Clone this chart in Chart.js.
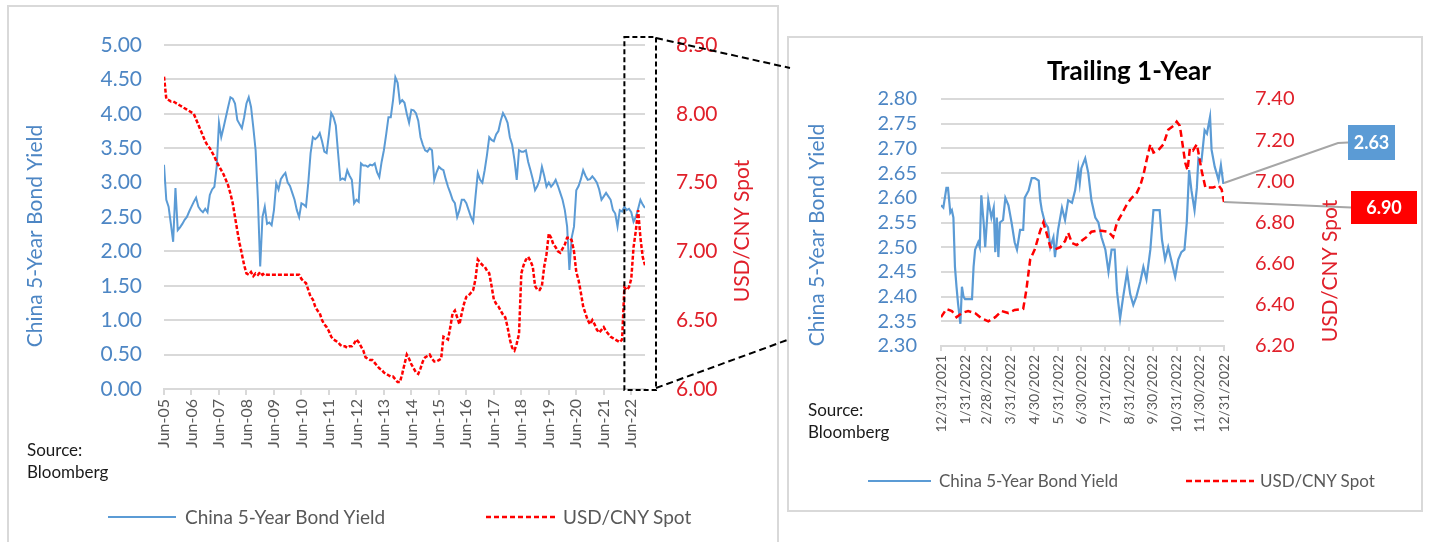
<!DOCTYPE html>
<html>
<head>
<meta charset="utf-8">
<script src="https://cdn.jsdelivr.net/npm/chart.js@4.4.1/dist/chart.umd.min.js"></script>
<style>
  html, body { margin: 0; padding: 0; background: #ffffff; }
  body { width: 1429px; height: 542px; position: relative; overflow: hidden; font-family: Lato, "Open Sans", sans-serif; }
  .panel { position: absolute; border: 2px solid #d9d9d9; box-sizing: border-box; background: #fff; }
  canvas { position: absolute; }
  .txt { position: absolute; white-space: nowrap; }
  .src { color: #1a1a1a; font-size: 17px; line-height: 22px; }
  .legtxt { color: #595959; }
  .title { font-weight: bold; font-size: 26px; color: #000; text-align: center; line-height: 30px; }
  svg.leg { position: absolute; overflow: visible; }
</style>
</head>
<body>
<div class="panel" style="left:7px; top:5px; width:772px; height:600px;"></div>
<div class="panel" style="left:787px; top:36px; width:636px; height:476px;"></div>

<canvas id="longChart" width="780" height="542" style="left:0; top:0;"></canvas>
<canvas id="trailChart" width="636" height="476" style="left:787px; top:36px;"></canvas>
<canvas id="overlay" width="1429" height="542" style="left:0; top:0; pointer-events:none;"></canvas>

<div class="txt title" style="left:979px; top:55px; width:300px;">Trailing 1-Year</div>

<div class="txt src" style="left:27px; top:439px;">Source:<br>Bloomberg</div>
<div class="txt src" style="left:808px; top:399px;">Source:<br>Bloomberg</div>

<!-- legend, long-run panel -->
<svg class="leg" style="left:108px; top:512px;" width="68" height="10"><line x1="0" y1="5" x2="68" y2="5" stroke="#5b9bd5" stroke-width="2.2"/></svg>
<div class="txt legtxt" style="left:185px; top:505px; font-size:19px; line-height:24px;">China 5-Year Bond Yield</div>
<svg class="leg" style="left:486px; top:512px;" width="69" height="10"><line x1="0" y1="5" x2="69" y2="5" stroke="#ff0000" stroke-width="2.5" stroke-dasharray="5,3"/></svg>
<div class="txt legtxt" style="left:563px; top:505px; font-size:19px; line-height:24px;">USD/CNY Spot</div>

<!-- legend, trailing panel -->
<svg class="leg" style="left:868px; top:476px;" width="63" height="10"><line x1="0" y1="5" x2="63" y2="5" stroke="#5b9bd5" stroke-width="2.2"/></svg>
<div class="txt legtxt" style="left:939px; top:470px; font-size:17px; line-height:22px;">China 5-Year Bond Yield</div>
<svg class="leg" style="left:1186px; top:476px;" width="68" height="10"><line x1="0" y1="5" x2="68" y2="5" stroke="#ff0000" stroke-width="2.5" stroke-dasharray="6,3"/></svg>
<div class="txt legtxt" style="left:1260px; top:470px; font-size:17px; line-height:22px;">USD/CNY Spot</div>

<script>
// Monthly series, June 2005 (index 0) through December 2022 (index 210)
const bondYieldMonthly = [
  3.26, 2.75, 2.65, 2.40, 2.14, 2.92, 2.31,
  2.35, 2.40, 2.46, 2.50, 2.58, 2.65, 2.72, 2.78, 2.65, 2.60, 2.57, 2.62,
  2.57, 2.82, 2.90, 2.94, 3.23, 3.87, 3.66, 3.80, 3.95, 4.10, 4.24, 4.22,
  4.15, 3.91, 3.85, 3.79, 3.95, 4.15, 4.24, 4.10, 3.80, 3.47, 2.75, 1.78,
  2.50, 2.65, 2.40, 2.42, 2.38, 2.60, 2.99, 2.90, 3.05, 3.10, 3.14, 3.00,
  2.95, 2.85, 2.75, 2.60, 2.50, 2.70, 2.68, 2.65, 3.00, 3.43, 3.66, 3.63,
  3.66, 3.72, 3.60, 3.45, 3.43, 3.70, 4.01, 3.95, 3.83, 3.43, 3.04, 3.06,
  3.04, 3.18, 3.10, 3.04, 2.70, 2.75, 2.72, 3.28, 3.25, 3.25, 3.23, 3.26,
  3.25, 3.28, 3.15, 3.08, 3.30, 3.47, 3.70, 3.95, 3.95, 4.20, 4.53, 4.45,
  4.16, 4.20, 4.16, 4.00, 3.87, 4.06, 4.05, 4.01, 3.90, 3.66, 3.55, 3.47,
  3.45, 3.50, 3.47, 3.04, 3.15, 3.23, 3.20, 3.18, 3.05, 2.94, 2.85, 2.75,
  2.70, 2.50, 2.60, 2.75, 2.75, 2.70, 2.60, 2.50, 2.43, 2.80, 3.14, 3.04,
  3.00, 3.18, 3.40, 3.66, 3.62, 3.60, 3.70, 3.75, 3.90, 4.01, 3.95, 3.87,
  3.66, 3.55, 3.33, 3.04, 3.47, 3.45, 3.45, 3.47, 3.30, 3.18, 3.05, 2.89,
  2.95, 3.04, 3.23, 3.10, 2.94, 3.00, 2.94, 2.98, 3.04, 2.95, 2.85, 2.75,
  2.60, 2.36, 1.73, 2.20, 2.36, 2.89, 2.95, 3.05, 3.18, 3.10, 3.04, 3.05,
  3.09, 3.05, 3.00, 2.90, 2.75, 2.80, 2.85, 2.80, 2.75, 2.60, 2.55, 2.36,
  2.60, 2.58, 2.65, 2.60, 2.62, 2.57, 2.43, 2.50, 2.62, 2.75, 2.68, 2.63
];
const usdCnyMonthly = [
  8.27, 8.11, 8.10, 8.09, 8.09, 8.08, 8.07,
  8.06, 8.05, 8.04, 8.03, 8.02, 8.01, 8.00, 7.96, 7.92, 7.88, 7.84, 7.80,
  7.77, 7.75, 7.72, 7.69, 7.65, 7.62, 7.59, 7.56, 7.52, 7.48, 7.42, 7.35,
  7.25, 7.15, 7.06, 6.98, 6.90, 6.84, 6.83, 6.85, 6.82, 6.84, 6.83, 6.85,
  6.83, 6.84, 6.83, 6.83, 6.83, 6.83, 6.83, 6.83, 6.83, 6.83, 6.83, 6.83,
  6.83, 6.83, 6.83, 6.83, 6.83, 6.80, 6.78, 6.77, 6.72, 6.67, 6.65, 6.60,
  6.57, 6.55, 6.50, 6.47, 6.45, 6.42, 6.38, 6.36, 6.35, 6.34, 6.32, 6.31,
  6.31, 6.30, 6.31, 6.31, 6.33, 6.36, 6.34, 6.31, 6.28, 6.23, 6.22, 6.21,
  6.21, 6.19, 6.17, 6.15, 6.14, 6.12, 6.11, 6.10, 6.09, 6.09, 6.07, 6.05,
  6.05, 6.11, 6.18, 6.25, 6.22, 6.18, 6.15, 6.12, 6.11, 6.15, 6.20, 6.23,
  6.24, 6.25, 6.22, 6.20, 6.20, 6.21, 6.22, 6.38, 6.37, 6.36, 6.45, 6.55,
  6.57, 6.52, 6.47, 6.55, 6.62, 6.67, 6.68, 6.70, 6.72, 6.80, 6.94, 6.92,
  6.90, 6.89, 6.86, 6.84, 6.75, 6.65, 6.62, 6.60, 6.57, 6.54, 6.52, 6.45,
  6.36, 6.30, 6.28, 6.33, 6.40, 6.84, 6.90, 6.94, 6.96, 6.93, 6.89, 6.75,
  6.72, 6.72, 6.75, 6.89, 6.98, 7.13, 7.10, 7.05, 7.03, 7.00, 6.99, 7.02,
  7.05, 7.10, 7.10, 7.08, 7.00, 6.85, 6.79, 6.70, 6.60, 6.55, 6.50, 6.47,
  6.50, 6.47, 6.43, 6.41, 6.43, 6.45, 6.42, 6.40, 6.38, 6.37, 6.36, 6.35,
  6.34, 6.36, 6.74, 6.72, 6.74, 6.80, 7.03, 7.15, 7.30, 7.10, 6.96, 6.90
];
const longTickMonths = [0, 12, 24, 36, 48, 60, 72, 84, 96, 108, 120, 132, 144, 156, 168, 180, 192, 204];
const longTickLabels = ['Jun-05','Jun-06','Jun-07','Jun-08','Jun-09','Jun-10','Jun-11','Jun-12','Jun-13',
                        'Jun-14','Jun-15','Jun-16','Jun-17','Jun-18','Jun-19','Jun-20','Jun-21','Jun-22'];
const trailingStartMonth = 201;

// Trailing year: days after 12/31/2021
const trailYieldDays = [0,3,7,9,12,14,16,18,20,22,25,27,29,31,40,42,44,48,50,52,55,57,61,65,68,70,72,74,76,80,83,87,91,95,98,
  102,106,108,113,117,121,126,128,130,134,138,141,145,147,151,156,160,164,169,173,177,179,181,186,190,194,199,203,207,212,
  216,220,224,227,231,235,240,244,248,252,257,261,265,270,274,278,282,285,289,293,298,302,306,310,314,317,320,323,327,330,
  332,336,340,343,347,349,353,358,361,364,365];
const trailYield = [2.585,2.58,2.62,2.62,2.57,2.575,2.56,2.46,2.42,2.386,2.345,2.42,2.40,2.395,2.395,2.46,2.495,2.51,2.50,2.605,2.55,2.50,2.595,2.56,2.58,2.49,2.56,2.48,2.55,2.555,
  2.60,2.585,2.55,2.51,2.495,2.535,2.535,2.60,2.615,2.64,2.64,2.635,2.595,2.575,2.55,2.54,2.50,2.52,2.48,2.535,2.58,2.555,2.595,2.59,2.615,2.66,2.63,2.66,2.68,2.65,
  2.595,2.56,2.55,2.52,2.495,2.45,2.495,2.495,2.41,2.356,2.40,2.45,2.405,2.383,2.40,2.43,2.46,2.435,2.495,2.575,2.575,2.575,2.515,2.475,2.50,2.467,2.44,2.475,2.49,2.495,
  2.55,2.656,2.615,2.575,2.62,2.68,2.675,2.737,2.73,2.764,2.697,2.663,2.636,2.666,2.63,2.63];
const trailFxDays = [0,7,14,20,27,35,44,52,61,70,78,87,95,106,110,115,121,128,132,136,141,147,154,160,164,169,175,181,188,194,
  201,207,216,222,227,233,240,246,252,257,261,265,270,274,280,287,293,300,304,308,310,315,318,321,325,330,332,336,341,345,351,358,362,365];
const trailFx = [6.34,6.38,6.37,6.34,6.36,6.37,6.36,6.335,6.32,6.34,6.37,6.36,6.375,6.38,6.47,6.62,6.67,6.76,6.80,6.75,6.68,6.67,6.68,6.71,6.75,6.70,6.69,6.71,6.73,6.755,
  6.76,6.76,6.755,6.73,6.80,6.84,6.89,6.92,6.94,6.98,7.03,7.10,7.18,7.14,7.15,7.18,7.25,7.27,7.29,7.27,7.22,7.09,7.055,7.16,7.15,7.18,7.14,7.055,6.97,6.97,6.97,6.98,6.96,6.90];
const trailTickDays = [0, 31, 59, 90, 120, 151, 181, 212, 243, 273, 304, 334, 365];
const trailTickLabels = ['12/31/2021','1/31/2022','2/28/2022','3/31/2022','4/30/2022','5/31/2022','6/30/2022',
                         '7/31/2022','8/31/2022','9/30/2022','10/31/2022','11/30/2022','12/31/2022'];

const FONT = 'Lato, "Open Sans", sans-serif';
const BLUE_LINE = '#5b9bd5';
const RED_LINE = '#ff0000';
const BLUE_TEXT = '#4d86c4';
const RED_TEXT = '#e0202a';
const GRID = '#d9d9d9';

// Rotated (bottom-to-top) axis titles on both sides
function sideTitles(items) {
  return {
    id: 'sideTitles',
    afterDraw(chart) {
      const ctx = chart.ctx;
      items.forEach(it => {
        ctx.save();
        ctx.translate(it.x, it.y);
        ctx.rotate(-Math.PI / 2);
        ctx.font = `${it.size}px ${FONT}`;
        ctx.fillStyle = it.color;
        ctx.textAlign = 'center';
        ctx.textBaseline = 'middle';
        ctx.fillText(it.text, 0, 0);
        ctx.restore();
      });
    }
  };
}

// Value boxes with leader lines from the last point of each series
const endCallouts = {
  id: 'endCallouts',
  afterDatasetsDraw(chart) {
    const ctx = chart.ctx;
    const specs = [
      { ds: 0, fill: '#5b9bd5', elbow: [551, 107], box: [561, 89, 47, 35] },
      { ds: 1, fill: '#ff0000', elbow: null, box: [564, 155, 66, 33] }
    ];
    specs.forEach(s => {
      const meta = chart.getDatasetMeta(s.ds);
      const pt = meta.data[meta.data.length - 1];
      const values = chart.data.datasets[s.ds].data;
      const val = values[values.length - 1].y;
      const [bx, by, bw, bh] = s.box;
      ctx.save();
      ctx.strokeStyle = '#a6a6a6';
      ctx.lineWidth = 2;
      ctx.beginPath();
      ctx.moveTo(pt.x, pt.y);
      if (s.elbow) ctx.lineTo(s.elbow[0], s.elbow[1]);
      ctx.lineTo(bx, by + bh / 2);
      ctx.stroke();
      ctx.fillStyle = s.fill;
      ctx.fillRect(bx, by, bw, bh);
      ctx.fillStyle = '#ffffff';
      ctx.font = `bold 18px ${FONT}`;
      ctx.textAlign = 'center';
      ctx.textBaseline = 'middle';
      ctx.fillText(val.toFixed(2), bx + bw / 2, by + bh / 2 + 1);
      ctx.restore();
    });
  }
};

const longChart = new Chart(document.getElementById('longChart'), {
  type: 'line',
  data: {
    datasets: [
      { label: 'China 5-Year Bond Yield', data: bondYieldMonthly.map((v, i) => ({ x: i, y: v })),
        borderColor: BLUE_LINE, borderWidth: 2, pointRadius: 0, yAxisID: 'y', order: 1 },
      { label: 'USD/CNY Spot', data: usdCnyMonthly.map((v, i) => ({ x: i, y: v })),
        borderColor: RED_LINE, borderWidth: 2.5, borderDash: [4, 2], pointRadius: 0, yAxisID: 'y2', order: 0 }
    ]
  },
  options: {
    responsive: false, animation: false, devicePixelRatio: 1,
    layout: { padding: { top: 45, left: 0, right: 0, bottom: 0 } },
    plugins: { legend: { display: false }, tooltip: { enabled: false } },
    scales: {
      x: {
        type: 'linear', min: 0, max: 210,
        afterBuildTicks: s => { s.ticks = longTickMonths.map(v => ({ value: v })); },
        afterFit: s => { s.height = 153; },
        ticks: { autoSkip: false, minRotation: 90, maxRotation: 90, padding: 4, color: '#595959',
                 font: { family: FONT, size: 16 }, callback: (v, i) => longTickLabels[i] },
        grid: { drawOnChartArea: false, drawTicks: true, tickLength: 6, color: GRID, lineWidth: 2 },
        border: { display: true, color: GRID, width: 2 }
      },
      y: {
        position: 'left', min: 0, max: 5,
        afterFit: s => { s.width = 164; },
        ticks: { stepSize: 0.5, autoSkip: false, padding: 22, color: BLUE_TEXT, font: { family: FONT, size: 21 },
                 callback: v => Number(v).toFixed(2) },
        grid: { color: GRID, lineWidth: 2, drawTicks: false },
        border: { display: false }
      },
      y2: {
        position: 'right', min: 6, max: 8.5,
        afterFit: s => { s.width = 135; },
        ticks: { stepSize: 0.5, autoSkip: false, padding: 23, color: RED_TEXT, font: { family: FONT, size: 21 },
                 callback: v => Number(v).toFixed(2) },
        grid: { display: false },
        border: { display: false }
      }
    }
  },
  plugins: [sideTitles([
    { text: 'China 5-Year Bond Yield', x: 35, y: 236, size: 21, color: BLUE_TEXT },
    { text: 'USD/CNY Spot', x: 742, y: 231, size: 21, color: RED_TEXT }
  ])]
});

const trailChart = new Chart(document.getElementById('trailChart'), {
  type: 'line',
  data: {
    datasets: [
      { label: 'China 5-Year Bond Yield', data: trailYieldDays.map((d, i) => ({ x: d, y: trailYield[i] })),
        borderColor: BLUE_LINE, borderWidth: 2.2, pointRadius: 0, yAxisID: 'y', order: 1 },
      { label: 'USD/CNY Spot', data: trailFxDays.map((d, i) => ({ x: d, y: trailFx[i] })),
        borderColor: RED_LINE, borderWidth: 2.5, borderDash: [7, 4], pointRadius: 0, yAxisID: 'y2', order: 0 }
    ]
  },
  options: {
    responsive: false, animation: false, devicePixelRatio: 1,
    layout: { padding: { top: 63, left: 0, right: 0, bottom: 0 } },
    plugins: { legend: { display: false }, tooltip: { enabled: false } },
    scales: {
      x: {
        type: 'linear', min: 0, max: 365,
        afterBuildTicks: s => { s.ticks = trailTickDays.map(v => ({ value: v })); },
        afterFit: s => { s.height = 166; },
        ticks: { autoSkip: false, minRotation: 90, maxRotation: 90, padding: 4, color: '#595959',
                 font: { family: FONT, size: 14 }, callback: (v, i) => trailTickLabels[i] },
        grid: { drawOnChartArea: false, drawTicks: true, tickLength: 5, color: GRID, lineWidth: 2 },
        border: { display: true, color: GRID, width: 2 }
      },
      y: {
        position: 'left', min: 2.3, max: 2.8,
        afterFit: s => { s.width = 154; },
        ticks: { stepSize: 0.05, autoSkip: false, padding: 24, color: BLUE_TEXT, font: { family: FONT, size: 20 },
                 callback: v => Number(v).toFixed(2) },
        grid: { color: GRID, lineWidth: 2, drawTicks: false },
        border: { display: false }
      },
      y2: {
        position: 'right', min: 6.2, max: 7.4,
        afterFit: s => { s.width = 199; },
        ticks: { stepSize: 0.2, autoSkip: false, padding: 23, color: RED_TEXT, font: { family: FONT, size: 20 },
                 callback: v => Number(v).toFixed(2) },
        grid: { display: false },
        border: { display: false }
      }
    }
  },
  plugins: [endCallouts, sideTitles([
    { text: 'China 5-Year Bond Yield', x: 30, y: 199, size: 21, color: BLUE_TEXT },
    { text: 'USD/CNY Spot', x: 543, y: 235, size: 21, color: RED_TEXT }
  ])]
});

// Dashed zoom box on the long chart and its connectors to the trailing panel
(function drawZoomGuide() {
  const ov = document.getElementById('overlay').getContext('2d');
  const ca = longChart.chartArea;
  const left = longChart.scales.x.getPixelForValue(trailingStartMonth);
  const right = ca.right + 11;
  const top = longChart.scales.y.getPixelForValue(5) - 8;
  const bottom = ca.bottom + 1;
  const panelX = 790;
  ov.strokeStyle = '#000000';
  ov.lineWidth = 2;
  ov.setLineDash([5, 3]);
  ov.strokeRect(left, top, right - left, bottom - top);
  ov.setLineDash([7, 4]);
  ov.beginPath();
  ov.moveTo(right, top + 1);
  ov.lineTo(panelX, 68);
  ov.moveTo(right, bottom - 2);
  ov.lineTo(panelX, 339);
  ov.stroke();
})();
</script>
</body>
</html>
